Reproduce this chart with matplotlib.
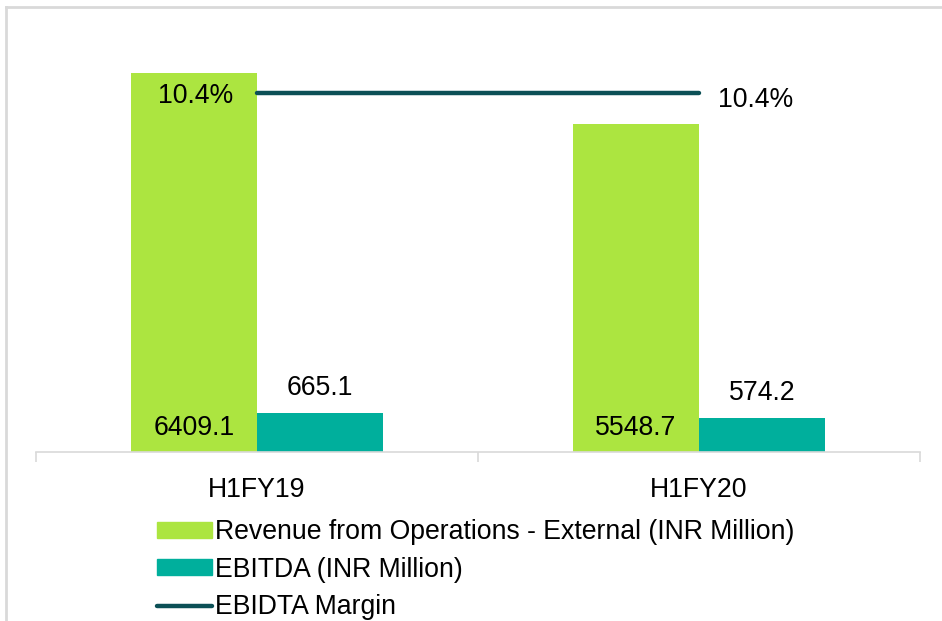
import matplotlib
matplotlib.use("Agg")
import matplotlib.pyplot as plt
from matplotlib.lines import Line2D
from matplotlib.patches import Patch

plt.rcParams['font.family'] = ['Liberation Sans', 'DejaVu Sans']

categories = ["H1FY19", "H1FY20"]
revenue = [6409.1, 5548.7]
ebitda = [665.1, 574.2]
margin = [0.104, 0.104]
revenue_labels = ["6409.1", "5548.7"]
ebitda_labels = ["665.1", "574.2"]
margin_labels = ["10.4%", "10.4%"]

c_rev = "#ACE540"
c_ebd = "#00AF9C"
c_mar = "#0C5056"
grid_c = "#D9D9D9"
fs = 19.2

fig = plt.figure(figsize=(9.42, 6.21), dpi=100)
ax = fig.add_axes([36/942, 1-452/621, (920-36)/942, (452-38)/621])
ax2 = ax.twinx()

x = list(range(len(categories)))
w = 0.285
xr = [i - w/2 for i in x]
xe = [i + w/2 for i in x]
ax.bar(xr, revenue, width=w, color=c_rev, zorder=2)
ax.bar(xe, ebitda, width=w, color=c_ebd, zorder=2)
ax.set_xlim(-0.5, 1.5)
ax.set_ylim(0, 7000)
ax2.set_ylim(0, 0.12)
ax2.plot(x, margin, color=c_mar, lw=3.2, solid_capstyle='round', zorder=3)

for i in x:
    ax.annotate(revenue_labels[i], (xr[i], 0), xytext=(0, 17), textcoords='offset points',
                ha='center', va='center', fontsize=fs, color='black')
    ax.annotate(ebitda_labels[i], (xe[i], ebitda[i]), xytext=(0, 18), textcoords='offset points',
                ha='center', va='center', fontsize=fs, color='black')
ax2.annotate(margin_labels[0], (x[0], margin[0]), xytext=(-44, -2), textcoords='offset points',
             ha='center', va='center', fontsize=fs, color='black')
ax2.annotate(margin_labels[1], (x[1], margin[1]), xytext=(41, -5), textcoords='offset points',
             ha='center', va='center', fontsize=fs, color='black')

for a in (ax, ax2):
    for s in ('top', 'right', 'left'):
        a.spines[s].set_visible(False)
    a.set_yticks([])
ax2.spines['bottom'].set_visible(False)
ax.spines['bottom'].set_color(grid_c)
ax.spines['bottom'].set_linewidth(1.2)
ax.set_xticks([-0.5, 0.5, 1.5])
ax.set_xticklabels([])
ax.set_xticks(x, minor=True)
ax.set_xticklabels(categories, minor=True, fontsize=fs)
ax.tick_params(axis='x', which='major', length=7, color=grid_c, width=1.2)
ax.tick_params(axis='x', which='minor', length=0, pad=18)

handles = [Patch(color=c_rev), Patch(color=c_ebd), Line2D([], [], color=c_mar, lw=3.2, solid_capstyle='round')]
labels = ["Revenue from Operations - External (INR Million)", "EBITDA (INR Million)", "EBIDTA Margin"]
fig.legend(handles, labels, loc='upper left', bbox_to_anchor=(157/942, 1-519/621), frameon=False,
           fontsize=fs, handlelength=2.05, handleheight=0.55, handletextpad=0.12, labelspacing=0.44,
           borderpad=0, borderaxespad=0)

# outer chart border
fig.add_artist(Line2D([5.5/942, 5.5/942], [0, 1-6.5/621], color=grid_c, lw=2, transform=fig.transFigure))
fig.add_artist(Line2D([5.5/942, 1], [1-6.5/621, 1-6.5/621], color=grid_c, lw=2, transform=fig.transFigure))

fig.savefig("out.png", dpi=100)
